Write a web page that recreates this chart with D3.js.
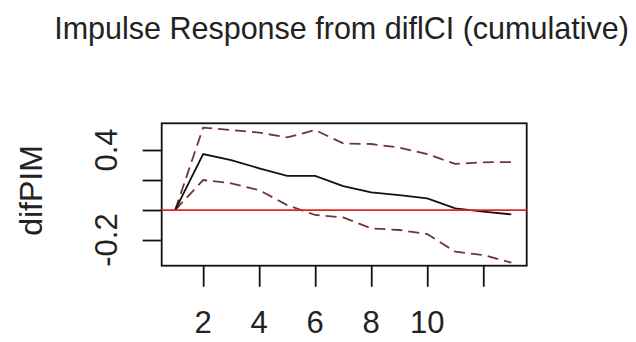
<!DOCTYPE html>
<html>
<head>
<meta charset="utf-8">
<script src="https://cdn.jsdelivr.net/npm/d3@7"></script>
<style>
  html, body { margin: 0; padding: 0; background: #fff; }
  svg { display: block; font-family: "Liberation Sans", Arial, sans-serif; }
</style>
</head>
<body>
<svg width="636" height="342"></svg>
<script>
// impulse response values, horizon 1..13
const steps = [1, 2, 3, 4, 5, 6, 7, 8, 9, 10, 11, 12, 13];
const irf = [0, 0.373, 0.333, 0.278, 0.227, 0.227, 0.16, 0.118, 0.1, 0.078, 0.011, -0.011, -0.029];
const upper = [0, 0.549, 0.533, 0.516, 0.484, 0.533, 0.444, 0.44, 0.416, 0.373, 0.307, 0.318, 0.32];
const lower = [0, 0.2, 0.178, 0.133, 0.033, -0.033, -0.049, -0.122, -0.133, -0.16, -0.278, -0.3, -0.351];

const xTicks = [2, 4, 6, 8, 10, 12];
const xLabels = [2, 4, 6, 8, 10];
const yTicks = [-0.2, 0, 0.2, 0.4];
const yLabels = [-0.2, 0.4];

const title = "Impulse Response from diflCI (cumulative)";
const yName = "difPIM";

const box = { left: 161.7, right: 526.7, top: 123.3, bottom: 265.7 };

const svg = d3.select("svg");

const x = d3.scaleLinear().domain([0.52, 13.55]).range([box.left, box.right]);
const y = d3.scaleLinear().domain([-0.371, 0.578]).range([box.bottom, box.top]);

// title
svg.append("text")
  .attr("x", 341.5)
  .attr("y", 39)
  .attr("text-anchor", "middle")
  .style("font-size", "30.5px")
  .attr("fill", "#222")
  .text(title);

// y axis name
svg.append("text")
  .attr("transform", `translate(42,${(box.top + box.bottom) / 2 - 4}) rotate(-90)`)
  .attr("text-anchor", "middle")
  .style("font-size", "32px")
  .attr("fill", "#222")
  .text(yName);

// axes
const yAxis = svg.append("g")
  .attr("transform", `translate(${box.left},0)`)
  .call(d3.axisLeft(y).tickValues(yTicks).tickSize(19).tickFormat(""));
yAxis.select(".domain").remove();
yAxis.selectAll(".tick line").attr("stroke", "#111").attr("stroke-width", 1.8);

const xAxis = svg.append("g")
  .attr("transform", `translate(0,${box.bottom})`)
  .call(d3.axisBottom(x).tickValues(xTicks).tickSize(21).tickFormat(""));
xAxis.select(".domain").remove();
xAxis.selectAll(".tick line").attr("stroke", "#111").attr("stroke-width", 1.8);

svg.append("g")
  .selectAll("text")
  .data(xLabels)
  .join("text")
  .attr("x", (d) => x(d))
  .attr("y", 333)
  .attr("text-anchor", "middle")
  .style("font-size", "31px")
  .attr("fill", "#222")
  .text((d) => d);

svg.append("g")
  .selectAll("text")
  .data(yLabels)
  .join("text")
  .attr("transform", (d) => `translate(117,${y(d)}) rotate(-90)`)
  .attr("text-anchor", "middle")
  .style("font-size", "31px")
  .attr("fill", "#222")
  .text((d) => d3.format(".1f")(d).replace("−", "-"));

// plot box
svg.append("rect")
  .attr("x", box.left)
  .attr("y", box.top)
  .attr("width", box.right - box.left)
  .attr("height", box.bottom - box.top)
  .attr("fill", "none")
  .attr("stroke", "#111")
  .attr("stroke-width", 1.8);

const line = d3.line()
  .x((d, i) => x(steps[i]))
  .y((d) => y(d));

const g = svg.append("g");

[upper, lower].forEach((s) => {
  g.append("path")
    .attr("d", line(s))
    .attr("fill", "none")
    .attr("stroke", "#6e3636")
    .attr("stroke-width", 1.8)
    .attr("stroke-dasharray", "11,6");
});

g.append("path")
  .attr("d", line(irf))
  .attr("fill", "none")
  .attr("stroke", "#111")
  .attr("stroke-width", 1.8);

// zero line
g.append("line")
  .attr("x1", box.left)
  .attr("x2", box.right)
  .attr("y1", y(0))
  .attr("y2", y(0))
  .attr("stroke", "#e02424")
  .attr("stroke-width", 1.8);
</script>
</body>
</html>
